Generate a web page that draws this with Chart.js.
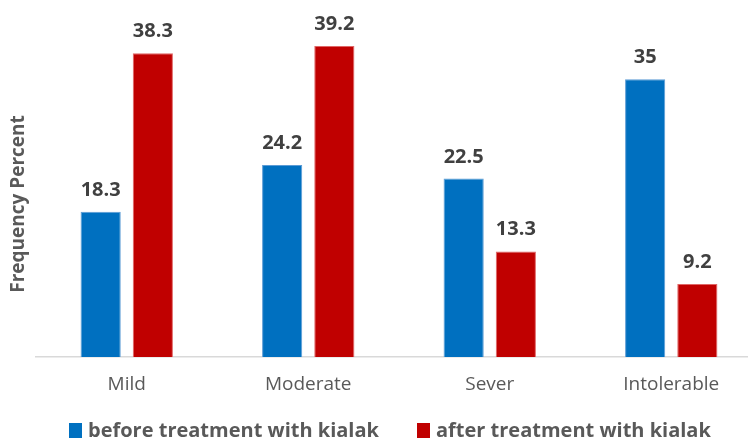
<!DOCTYPE html>
<html>
<head>
<meta charset="utf-8">
<script src="https://cdn.jsdelivr.net/npm/chart.js@4"></script>
<style>
  html, body { margin: 0; padding: 0; background: #fff; overflow: hidden; }
  #wrap { width: 762px; height: 438px; }
</style>
</head>
<body>
<div id="wrap"><canvas id="myChart"></canvas></div>
<script>
const categories = ["Mild", "Moderate", "Sever", "Intolerable"];
const beforeValues = [18.3, 24.2, 22.5, 35];
const afterValues = [38.3, 39.2, 13.3, 9.2];
const seriesNames = ["before treatment with kialak", "after treatment with kialak"];
const seriesColors = ["#0070c0", "#c00000"];
const axisTitle = "Frequency Percent";

// value above each bar, the y title and the legend along the bottom
const barLabels = {
    id: "barLabels",
    afterDatasetsDraw(chart) {
        const ctx = chart.ctx;
        ctx.save();
        ctx.fillStyle = "#404040";
        ctx.font = "bold 20px 'Open Sans', sans-serif";
        ctx.textAlign = "center";
        ctx.textBaseline = "alphabetic";
        chart.data.datasets.forEach((ds, i) => {
            chart.getDatasetMeta(i).data.forEach((bar, j) => {
                ctx.fillText(String(ds.data[j]), bar.x, bar.y - 16);
            });
        });

        // y axis title
        ctx.save();
        ctx.translate(18.5, 204);
        ctx.rotate(-Math.PI / 2);
        ctx.fillStyle = "#595959";
        ctx.font = "bold 19px 'Open Sans', sans-serif";
        ctx.textBaseline = "middle";
        ctx.fillText(axisTitle, 0, 0);
        ctx.restore();

        // legend
        ctx.font = "bold 20px 'Open Sans', sans-serif";
        ctx.textAlign = "left";
        const boxW = 13, gap = 6;
        const starts = [69, 417];
        seriesNames.forEach((name, i) => {
            ctx.fillStyle = seriesColors[i];
            ctx.fillRect(starts[i], 423, boxW, 15);
            ctx.fillStyle = "#595959";
            ctx.fillText(name, starts[i] + boxW + gap, 437);
        });
        ctx.restore();
    }
};

let myChart = new Chart(document.getElementById("myChart"), {
    type: "bar",
    data: {
        labels: categories,
        datasets: [{
            label: seriesNames[0],
            data: beforeValues,
            backgroundColor: seriesColors[0],
            borderColor: "#5b9bd5",
            borderWidth: 1,
            categoryPercentage: 0.575,
            barPercentage: 0.77
        }, {
            label: seriesNames[1],
            data: afterValues,
            backgroundColor: seriesColors[1],
            borderColor: "#e06666",
            borderWidth: 1,
            categoryPercentage: 0.575,
            barPercentage: 0.77
        }]
    },
    options: {
        responsive: true,
        maintainAspectRatio: false,
        animation: false,
        layout: { padding: { left: 36, right: 0, top: 0, bottom: 26.2 } },
        scales: {
            x: {
                grid: { display: false, drawTicks: false },
                border: { display: true, color: "#d9d9d9", width: 1.5 },
                ticks: {
                    color: "#595959",
                    font: { family: "'Open Sans', sans-serif", size: 19 },
                    padding: 16
                }
            },
            y: {
                display: false,
                min: 0,
                max: 45
            }
        },
        plugins: {
            tooltip: { enabled: false },
            legend: { display: false }
        }
    },
    plugins: [barLabels]
});
</script>
</body>
</html>
